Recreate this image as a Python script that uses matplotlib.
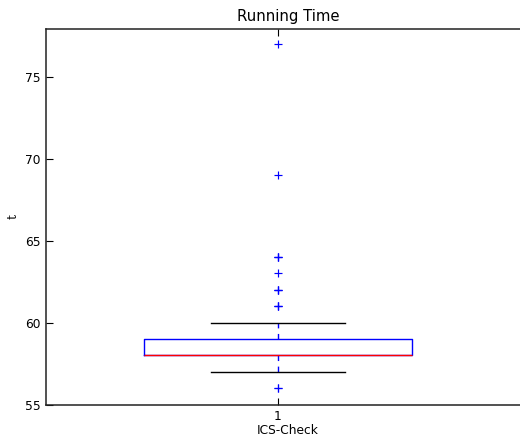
import matplotlib
matplotlib.use('Agg')
import matplotlib.pyplot as plt

# box summary
category = 'ICS-Check'
q1, median, q3 = 58, 58, 59
whisker_low, whisker_high = 57, 60
# outliers (repeated values show up as bolder crosses)
fliers = [56, 56, 61, 61, 61, 62, 62, 62, 63, 64, 64, 64, 69, 77]
yticks = [55, 60, 65, 70, 75]

stats = [{'med': median, 'q1': q1, 'q3': q3,
          'whislo': whisker_low, 'whishi': whisker_high,
          'fliers': fliers, 'label': '1'}]

fig = plt.figure(figsize=(5.2, 4.36), dpi=100)
ax = fig.add_axes([0.0885, 0.0722, 0.9308, 0.8606])

ax.bxp(stats, positions=[1], widths=0.5,
       boxprops=dict(color='blue', linewidth=1.0),
       whiskerprops=dict(color='blue', linestyle='--', linewidth=1.0, dashes=(4, 4)),
       capprops=dict(color='black', linewidth=1.0),
       medianprops=dict(color='red', linewidth=1.0),
       flierprops=dict(marker='+', markeredgecolor='blue', markersize=6,
                       linestyle='none', markeredgewidth=0.85),
       capwidths=0.25)

ax.set_xlim(0.568, 1.471)
ax.set_ylim(55, 77.9)
ax.set_yticks(yticks)

ax.spines['right'].set_visible(False)
for s in ['left', 'bottom', 'top']:
    ax.spines[s].set_color('#222222')
    ax.spines[s].set_linewidth(1.1)
ax.tick_params(direction='in', length=5, width=0.8, labelsize=8.8,
               top=True, right=False, pad=4)

ax.set_title('Running Time', fontsize=10.7, pad=6)
ax.set_xlabel(category, fontsize=8.8, labelpad=1)
ax.set_ylabel('t', fontsize=8.8, family='serif')

fig.savefig('out.png', dpi=100)
